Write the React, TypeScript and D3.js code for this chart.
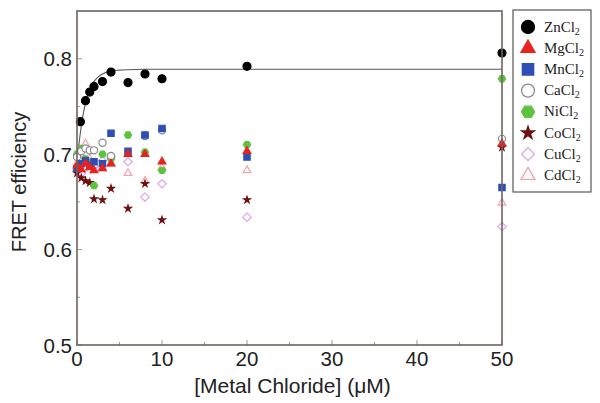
import React from "react";
import * as d3 from "d3";

const W = 600, H = 403;
const margin = { left: 77, right: 98, top: 11, bottom: 58 };

const xTicks = [0, 10, 20, 30, 40, 50];
const yTicks = [0.5, 0.6, 0.7, 0.8];
const xMinor = [5, 15, 25, 35, 45];
const yMinor = [0.55, 0.65, 0.75];

const znX = [0.4, 1, 1.5, 2, 3, 4, 6, 8, 10, 20, 50];
const znY = [0.734, 0.756, 0.765, 0.771, 0.776, 0.786, 0.775, 0.784, 0.779, 0.792, 0.806];

const allX = [0, 0.5, 1, 1.5, 2, 3, 4, 6, 8, 10, 20, 50];
const mgY = [0.688, 0.684, 0.69, 0.686, 0.683, 0.685, 0.69, 0.7, 0.7, 0.692, 0.703, 0.711];
const mnX = [0, 0.5, 1, 1.5, 2, 3, 4, 6, 8, 10, 20, 50];
const mnY = [0.685, 0.69, 0.693, 0.688, 0.692, 0.69, 0.722, 0.703, 0.72, 0.727, 0.697, 0.665];
const caX = [0, 0.5, 1, 1.5, 2, 3, 4, 8, 10, 50];
const caY = [0.697, 0.703, 0.706, 0.704, 0.704, 0.712, 0.698, 0.719, 0.725, 0.716];
const niY = [0.7, 0.706, 0.695, 0.69, 0.667, 0.7, 0.695, 0.72, 0.702, 0.683, 0.71, 0.779];
const coY = [0.68, 0.675, 0.672, 0.67, 0.653, 0.652, 0.664, 0.643, 0.669, 0.631, 0.652, 0.707];
const cuY = [0.683, 0.68, 0.686, 0.69, 0.688, 0.693, 0.697, 0.692, 0.655, 0.669, 0.634, 0.624];
const cdY = [0.69, 0.7, 0.711, 0.695, 0.688, 0.685, 0.69, 0.68, 0.672, 0.686, 0.683, 0.649];

const fitX = [0, 0.25, 0.5, 0.75, 1, 1.5, 2, 2.5, 3, 4, 5, 6, 8, 10, 20, 50];
const fitY = [0.69, 0.712, 0.729, 0.743, 0.753, 0.768, 0.776, 0.781, 0.784, 0.787, 0.788, 0.7885, 0.789, 0.789, 0.789, 0.789];

type Shape = "circle" | "triangle" | "square" | "hexagon" | "star" | "diamond";
interface Series { name: string; xs: number[]; ys: number[]; shape: Shape; fill: string; stroke: string; }

const series: Series[] = [
  { name: "Zn", xs: znX, ys: znY, shape: "circle", fill: "#000", stroke: "#000" },
  { name: "Mg", xs: allX, ys: mgY, shape: "triangle", fill: "#e8231f", stroke: "#e8231f" },
  { name: "Mn", xs: mnX, ys: mnY, shape: "square", fill: "#2d4fb5", stroke: "#2d4fb5" },
  { name: "Ca", xs: caX, ys: caY, shape: "circle", fill: "#fff", stroke: "#8a8a8a" },
  { name: "Ni", xs: allX, ys: niY, shape: "hexagon", fill: "#5dc33c", stroke: "#5dc33c" },
  { name: "Co", xs: allX, ys: coY, shape: "star", fill: "#6e1010", stroke: "#6e1010" },
  { name: "Cu", xs: allX, ys: cuY, shape: "diamond", fill: "#fff", stroke: "#dea6ea" },
  { name: "Cd", xs: allX, ys: cdY, shape: "triangle", fill: "#fff", stroke: "#f4a3ad" },
];
const drawOrder = [7, 6, 5, 4, 3, 2, 1, 0];

function shapePath(shape: Shape, r: number): string {
  if (shape === "hexagon") {
    const pts = d3.range(6).map((i) => {
      const a = (Math.PI / 3) * i;
      return [r * Math.cos(a), r * Math.sin(a)] as [number, number];
    });
    return (d3.line()(pts) || "") + "Z";
  }
  if (shape === "diamond") {
    const pts: [number, number][] = [[0, -r], [r, 0], [0, r], [-r, 0]];
    return (d3.line()(pts) || "") + "Z";
  }
  const sym =
    shape === "circle" ? d3.symbolCircle :
    shape === "triangle" ? d3.symbolTriangle :
    shape === "square" ? d3.symbolSquare : d3.symbolStar;
  const area = shape === "circle" ? Math.PI * r * r :
    shape === "square" ? (1.75 * r) ** 2 :
    shape === "triangle" ? 2.0 * r * r :
    1.05 * r * r;
  return d3.symbol(sym, area)() || "";
}

export default function App() {
  const x = d3.scaleLinear().domain([0, 50]).range([margin.left, W - margin.right]);
  const y = d3.scaleLinear().domain([0.5, 0.85]).range([H - margin.bottom, margin.top]);
  const x0 = x(0), x1 = x(50), y0 = y(0.5), y1 = y(0.85);
  const line = d3.line<number>().x((_, i) => x(fitX[i])).y((d) => y(d)).curve(d3.curveMonotoneX);
  const axisColor = "#6e6260";
  const tickColor = "#9a9a9a";
  const font = "Liberation Sans, Arial, sans-serif";

  const lgX = 513, lgY = 10, lgW = 78, lgH = 182;

  return (
    <svg width={W} height={H} style={{ position: "absolute", left: 0, top: 0, background: "#fff" }}>
      {xTicks.map((t) => (
        <line key={"xt" + t} x1={x(t)} x2={x(t)} y1={y0} y2={y0 - 5} stroke={tickColor} strokeWidth={1} />
      ))}
      {xMinor.map((t) => (
        <line key={"xm" + t} x1={x(t)} x2={x(t)} y1={y0} y2={y0 - 3} stroke={tickColor} strokeWidth={1} />
      ))}
      {yTicks.map((t) => (
        <line key={"yt" + t} x1={x0} x2={x0 + 5} y1={y(t)} y2={y(t)} stroke={tickColor} strokeWidth={1} />
      ))}
      {yMinor.map((t) => (
        <line key={"ym" + t} x1={x0} x2={x0 + 3} y1={y(t)} y2={y(t)} stroke={tickColor} strokeWidth={1} />
      ))}
      <path d={line(fitY) || ""} fill="none" stroke="#555" strokeWidth={1.1} />
      {drawOrder.map((si) => {
        const s = series[si];
        const r = s.name === "Zn" ? 4 : s.shape === "diamond" ? 4.2 : 3.6;
        const d = shapePath(s.shape, r);
        return (
          <g key={s.name}>
            {s.ys.map((v, i) => (
              <path
                key={i}
                d={d}
                transform={`translate(${x(s.xs[i])},${y(v)})`}
                fill={s.fill}
                stroke={s.stroke}
                strokeWidth={1.2}
              />
            ))}
          </g>
        );
      })}
      <rect x={x0} y={y1} width={x1 - x0} height={y0 - y1} fill="none" stroke={axisColor} strokeWidth={1.6} />
      {xTicks.map((t) => (
        <text key={"xl" + t} x={x(t)} y={y0 + 21} textAnchor="middle" fontFamily={font} fontSize={20.5} fill="#222">
          {t}
        </text>
      ))}
      {yTicks.map((t) => (
        <text key={"yl" + t} x={x0 - 5} y={y(t) + 7.5} textAnchor="end" fontFamily={font} fontSize={20.5} fill="#222">
          {t.toFixed(1)}
        </text>
      ))}
      <text x={(x0 + x1) / 2 + 3} y={393} textAnchor="middle" fontFamily={font} fontSize={21} fill="#222">
        [Metal Chloride] (μM)
      </text>
      <text transform={`translate(26,182) rotate(-90)`} textAnchor="middle" fontFamily={font} fontSize={20} fill="#222">
        FRET efficiency
      </text>
      <rect x={lgX} y={lgY} width={lgW} height={lgH} fill="#fff" stroke="#555" strokeWidth={1.2} />
      {series.map((s, i) => {
        const cy = lgY + 17 + i * 21.2;
        const r = s.shape === "star" ? 7 : 6.5;
        return (
          <g key={"lg" + s.name}>
            <path d={shapePath(s.shape, r)} transform={`translate(528,${cy})`} fill={s.fill} stroke={s.stroke} strokeWidth={1.3} />
            <text x={544} y={cy + 4.5} fontFamily="Liberation Serif, Times New Roman, serif" fontSize={15} fill="#222">
              {s.name}Cl
              <tspan dy={3} fontSize={10}>2</tspan>
            </text>
          </g>
        );
      })}
    </svg>
  );
}
